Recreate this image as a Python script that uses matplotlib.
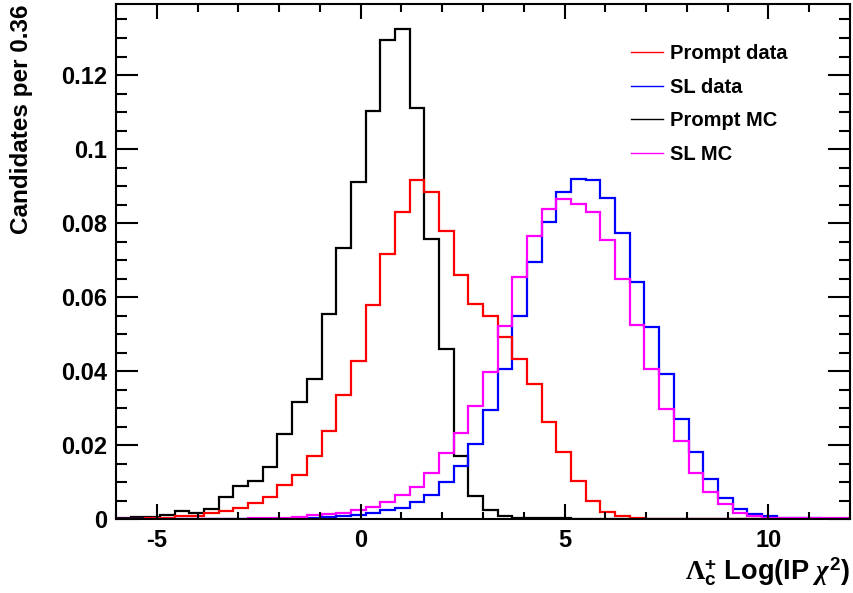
import numpy as np
import matplotlib
matplotlib.use('Agg')
import matplotlib.pyplot as plt
from matplotlib.ticker import MultipleLocator, FuncFormatter

plt.rcParams['font.family'] = ['Liberation Sans', 'DejaVu Sans']
plt.rcParams['font.weight'] = 'bold'
plt.rcParams['axes.unicode_minus'] = False
plt.rcParams['mathtext.fontset'] = 'custom'
plt.rcParams['mathtext.rm'] = 'Liberation Serif'
plt.rcParams['mathtext.it'] = 'Liberation Serif:italic'
plt.rcParams['mathtext.bf'] = 'Liberation Sans:bold'

# -----------------------------------------------------------
# Histogram contents, 50 bins of width 0.36 from -6 to 12
# -----------------------------------------------------------
x_lo, x_hi, n_bins = -6.0, 12.0, 50

prompt_mc = [0.0002, 0.0006, 0.0006, 0.0012, 0.0021, 0.0016, 0.0028, 0.0060, 0.0088, 0.0102,
             0.0140, 0.0230, 0.0316, 0.0379, 0.0553, 0.0732, 0.0912, 0.1103, 0.1295, 0.1324,
             0.1110, 0.0757, 0.0459, 0.0171, 0.0061, 0.0023, 0.0007, 0.0004, 0.0003, 0.0002,
             0.0002, 0.0001, 0.0001, 0.0001, 0.0001, 0.0001, 0.0, 0.0, 0.0, 0.0,
             0.0, 0.0, 0.0, 0.0, 0.0, 0.0, 0.0, 0.0, 0.0, 0.0]

prompt_data = [0.0001, 0.0001, 0.0002, 0.0004, 0.0007, 0.0009, 0.0015, 0.0022, 0.0031, 0.0042,
               0.0060, 0.0091, 0.0120, 0.0170, 0.0238, 0.0334, 0.0428, 0.0579, 0.0717, 0.0831,
               0.0915, 0.0884, 0.0779, 0.0659, 0.0580, 0.0550, 0.0492, 0.0432, 0.0365, 0.0263,
               0.0182, 0.0104, 0.0050, 0.0020, 0.0007, 0.0002, 0.0001, 0.0001, 0.0001, 0.0001,
               0.0001, 0.0, 0.0, 0.0, 0.0, 0.0, 0.0, 0.0, 0.0, 0.0]

sl_data = [0.0, 0.0, 0.0, 0.0, 0.0, 0.0, 0.0, 0.0, 0.0, 0.0001,
           0.0001, 0.0001, 0.0002, 0.0004, 0.0005, 0.0007, 0.0011, 0.0016, 0.0023, 0.0031,
           0.0046, 0.0066, 0.0099, 0.0144, 0.0204, 0.0294, 0.0405, 0.0548, 0.0694, 0.0802,
           0.0884, 0.0919, 0.0916, 0.0868, 0.0772, 0.0641, 0.0518, 0.0391, 0.0271, 0.0182,
           0.0107, 0.0058, 0.0026, 0.0014, 0.0007, 0.0004, 0.0002, 0.0002, 0.0001, 0.0001]

sl_mc = [0.0001, 0.0001, 0.0001, 0.0001, 0.0001, 0.0001, 0.0001, 0.0001, 0.0001, 0.0002,
         0.0002, 0.0003, 0.0006, 0.0010, 0.0014, 0.0017, 0.0023, 0.0033, 0.0045, 0.0066,
         0.0086, 0.0124, 0.0178, 0.0232, 0.0306, 0.0398, 0.0521, 0.0653, 0.0766, 0.0839,
         0.0864, 0.0852, 0.0829, 0.0753, 0.0650, 0.0524, 0.0405, 0.0298, 0.0211, 0.0125,
         0.0074, 0.0040, 0.0016, 0.0007, 0.0004, 0.0002, 0.0002, 0.0002, 0.0002, 0.0002]

series = [
    ('Prompt data', prompt_data, 'red'),
    ('SL data', sl_data, 'blue'),
    ('Prompt MC', prompt_mc, 'black'),
    ('SL MC', sl_mc, 'magenta'),
]
draw_order = ['Prompt MC', 'SL data', 'Prompt data', 'SL MC']

edges = np.linspace(x_lo, x_hi, n_bins + 1)

fig = plt.figure(figsize=(8.54, 5.93), dpi=100)
ax = fig.add_axes([116 / 854, 1 - 519 / 593, 734 / 854, 515 / 593])

handles = {}
for name in draw_order:
    label, vals, c = next(s for s in series if s[0] == name)
    ax.stairs(vals, edges, color=c, linewidth=1.6, baseline=None)
    handles[label], = ax.plot([], [], color=c, linewidth=1.0)

ax.set_xlim(x_lo, x_hi)
ax.set_ylim(0, 515 / 3700)

# ROOT-like frame and ticks
for sp in ax.spines.values():
    sp.set_linewidth(1.5)
ax.xaxis.set_major_locator(MultipleLocator(5))
ax.xaxis.set_minor_locator(MultipleLocator(1))
ax.yaxis.set_major_locator(MultipleLocator(0.02))
ax.yaxis.set_minor_locator(MultipleLocator(0.005))
ax.yaxis.set_major_formatter(FuncFormatter(lambda v, p: f'{v:g}'))
ax.tick_params(axis='x', which='major', direction='in', length=10.8, width=1.5,
               top=True, labelsize=17, pad=7)
ax.tick_params(axis='x', which='minor', direction='in', length=5.4, width=1.5, top=True)
ax.tick_params(axis='y', which='major', direction='in', length=15.8, width=1.5,
               right=True, labelsize=17, pad=6.5)
ax.tick_params(axis='y', which='minor', direction='in', length=8.0, width=1.5, right=True)

leg = ax.legend([handles[s[0]] for s in series], [s[0] for s in series],
                loc='upper left', bbox_to_anchor=(0.7016, 0.922), frameon=False,
                fontsize=14.5, handlelength=1.6, handletextpad=0.35,
                labelspacing=0.72, borderpad=0, borderaxespad=0)

fig.text(21.5 / 854, 1 - 5 / 593, 'Candidates per 0.36', rotation=90,
         ha='center', va='top', fontsize=17.5, fontweight='bold')
fig.text(850 / 854, 1 - 579 / 593,
         r'$\Lambda_{\mathbf{c}}^{\mathbf{+}}$ Log(IP $\chi^{\mathbf{2}}$)',
         ha='right', va='baseline', fontsize=19.5, fontweight='bold')

fig.savefig('out.png', dpi=100)
